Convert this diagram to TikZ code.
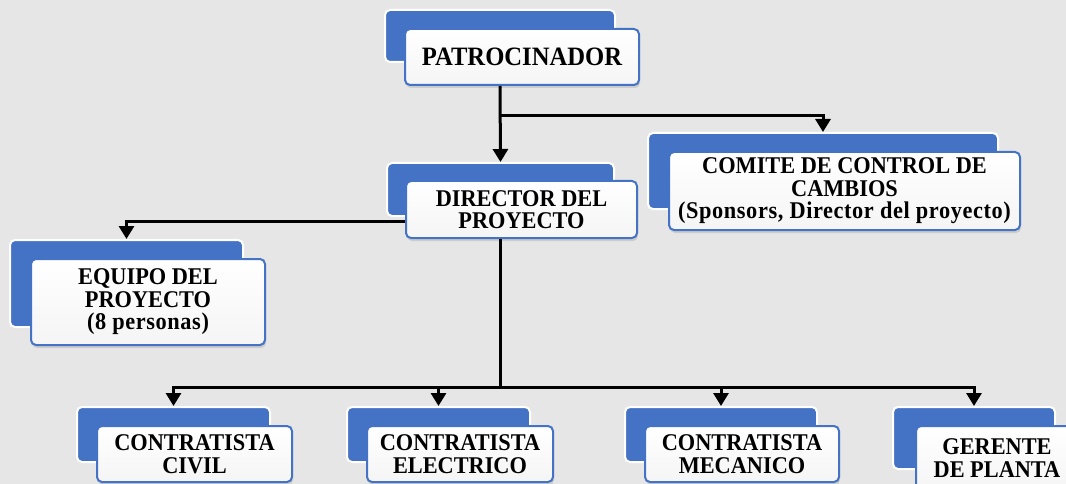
\documentclass[tikz,border=0pt]{standalone}
\usepackage{fontspec}
\setmainfont{Liberation Serif}[FakeStretch=0.93]
\usetikzlibrary{arrows.meta,shadows,calc}
\definecolor{bg}{HTML}{E6E6E6}
\definecolor{blu}{HTML}{4472C4}
\newcommand{\spaced}[1]{{\addfontfeature{LetterSpace=2.5}#1}}
\begin{document}
\begin{tikzpicture}[x=1pt,y=-1pt,
  back/.style={draw=white, line width=2pt, fill=blu, rounded corners=5pt, inner sep=0pt},
  front/.style={draw=blu, line width=2pt, rounded corners=5pt, top color=white, bottom color=gray!8,
    drop shadow={shadow xshift=1pt, shadow yshift=-3pt, opacity=0.25},
    inner sep=0pt, align=center, font=\fontsize{24}{22.5}\selectfont\bfseries},
  conn/.style={line width=3pt, black},
  arr/.style={conn, -{Triangle[width=15pt,length=13pt]}}]
\fill[bg] (0,0) rectangle (1066,484);
\useasboundingbox (0,0) rectangle (1066,484);
\clip (0,0) rectangle (1066,484);
% PATROCINADOR
\node[back, minimum width=230pt, minimum height=52pt] (pb) at (500,36) {};
\node[front, minimum width=234pt, minimum height=56pt, font=\fontsize{26.5}{26.5}\selectfont\bfseries] (p) at (522,57) {PATROCINADOR};
% DIRECTOR
\node[back, minimum width=227pt, minimum height=53pt] (db) at (500.5,189.5) {};
\node[front, minimum width=231pt, minimum height=57pt] (d) at (521.5,209.5) {DIRECTOR DEL\\PROYECTO};
% COMITE
\node[back, minimum width=350pt, minimum height=76pt] (cb) at (823,171) {};
\node[front, minimum width=351pt, minimum height=78pt] (c) at (844.5,191) {COMITE DE CONTROL DE\\CAMBIOS\\\spaced{(Sponsors, Director del proyecto)}};
% EQUIPO
\node[back, minimum width=233pt, minimum height=87pt] (eb) at (126.5,283.5) {};
\node[front, minimum width=234pt, minimum height=86pt] (e) at (148,302) {EQUIPO DEL\\PROYECTO\\\spaced{(8 personas)}};
% CONTRATISTAS
\node[back, minimum width=193pt, minimum height=55pt] (c1b) at (173.5,434.5) {};
\node[front, minimum width=195pt, minimum height=56pt] (c1) at (194.5,454) {CONTRATISTA\\CIVIL};
\node[back, minimum width=183pt, minimum height=55pt] (c2b) at (438.5,434.5) {};
\node[front, minimum width=186pt, minimum height=56pt] (c2) at (460,454) {CONTRATISTA\\ELECTRICO};
\node[back, minimum width=192pt, minimum height=55pt] (c3b) at (721,434.5) {};
\node[front, minimum width=194pt, minimum height=56pt] (c3) at (742,454) {CONTRATISTA\\MECANICO};
\node[back, minimum width=162pt, minimum height=62pt] (gb) at (974,438) {};
\node[front, minimum width=162pt, minimum height=64pt] (g) at (997,458) {GERENTE\\DE PLANTA};
% connectors
\coordinate (pbot) at (pb.south |- p.south);
\draw[arr] (pbot) -- (db.north);
\draw[arr] ($(pbot)!0.385!(db.north)$) -| (cb.north);
\draw[arr] ([yshift=-11.5pt]d.west) -| (eb.north);
\coordinate (busy) at (0,387);
\coordinate (bus) at (db.south |- busy);
\draw[conn] (db.south |- d.south) -- (bus);
\draw[arr] (bus) -| (c1b.north);
\draw[arr] (bus) -| (c2b.north);
\draw[arr] (bus) -| (c3b.north);
\draw[arr] (bus) -| (gb.north);
\end{tikzpicture}
\end{document}
